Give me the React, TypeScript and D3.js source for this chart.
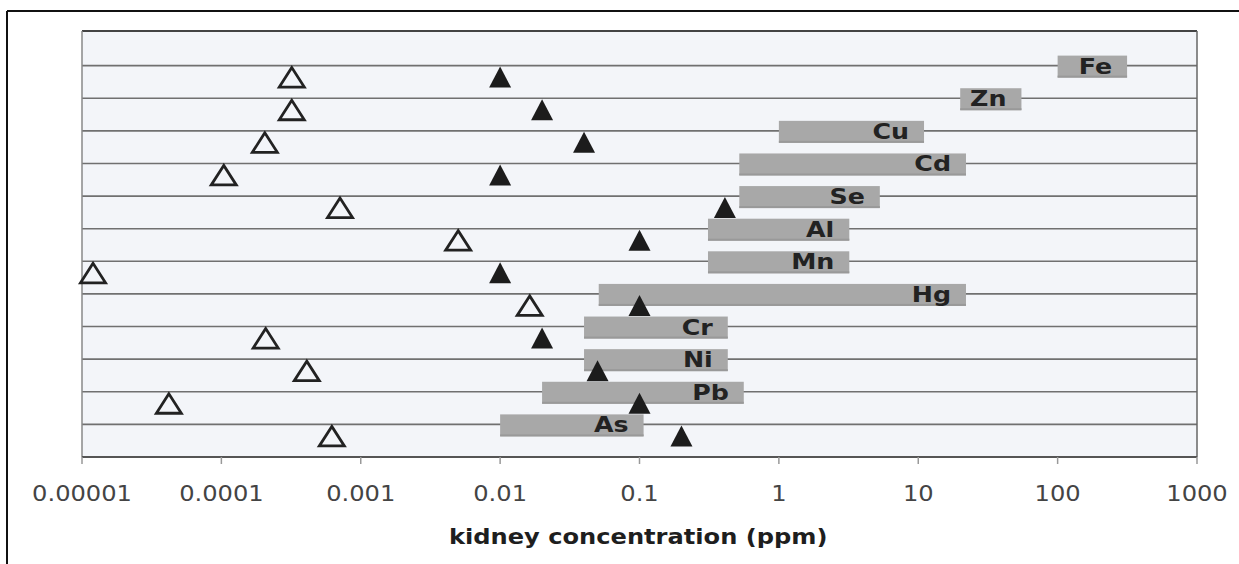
import React from "react";
import * as d3 from "d3";

const elements = ["Fe", "Zn", "Cu", "Cd", "Se", "Al", "Mn", "Hg", "Cr", "Ni", "Pb", "As"];
const rangeLow = [100, 20, 1.0, 0.52, 0.52, 0.31, 0.31, 0.051, 0.04, 0.04, 0.02, 0.01];
const rangeHigh = [315, 55, 11, 22, 5.3, 3.2, 3.2, 22, 0.43, 0.43, 0.56, 0.107];
const openValues = [3.2e-4, 3.2e-4, 2.05e-4, 1.04e-4, 7.1e-4, 5.0e-3, 1.2e-5, 0.0163, 2.08e-4, 4.1e-4, 4.2e-5, 6.2e-4];
const filledValues = [0.01, 0.02, 0.04, 0.01, 0.41, 0.1, 0.01, 0.1, 0.02, 0.05, 0.1, 0.2];
const tickValues = [0.00001, 0.0001, 0.001, 0.01, 0.1, 1, 10, 100, 1000];
const tickLabels = ["0.00001", "0.0001", "0.001", "0.01", "0.1", "1", "10", "100", "1000"];
const axisTitle = "kidney concentration (ppm)";

const W = 1239;
const H = 564;
const left = 82;
const right = 1197;
const top = 31;
const bottom = 457;
const FONT = "Verdana, 'DejaVu Sans', sans-serif";
const STRETCH = 1.15;

export default function App() {
  const x = d3.scaleLog().domain([1e-5, 1e3]).range([left, right]);
  const y = d3.scalePoint<string>().domain(elements).range([top + 2, bottom]).padding(1);

  return (
    <div style={{ position: "fixed", left: 0, top: 0 }}>
      <svg width={W} height={H} style={{ display: "block", background: "#ffffff" }}>
        {/* scan frame */}
        <line x1={7} x2={7} y1={11} y2={H} stroke="#111" strokeWidth={2} />
        <line x1={7} x2={W} y1={11} y2={11} stroke="#111" strokeWidth={2} />

        {/* plot background */}
        <rect x={left} y={top} width={right - left} height={bottom - top} fill="#f3f5f9" />

        {/* gridlines */}
        {elements.map((e) => (
          <line key={"g" + e} x1={left} x2={right} y1={y(e)!} y2={y(e)!} stroke="#707070" strokeWidth={1.6} />
        ))}

        {/* borders */}
        <line x1={left} x2={right} y1={top} y2={top} stroke="#444" strokeWidth={2} />
        <line x1={left} x2={left} y1={top} y2={bottom} stroke="#888" strokeWidth={1.5} />
        <line x1={right} x2={right} y1={top} y2={bottom} stroke="#666" strokeWidth={1.5} />
        <line x1={left} x2={right} y1={bottom} y2={bottom} stroke="#555" strokeWidth={2} />

        {/* ticks */}
        {tickValues.map((t, i) => (
          <g key={"t" + i}>
            <line x1={x(t)} x2={x(t)} y1={bottom} y2={bottom + 7} stroke="#999" strokeWidth={1.5} />
            <text
              transform={`translate(${x(t)},${bottom + 44}) scale(${STRETCH},1)`}
              textAnchor="middle"
              fontFamily={FONT}
              fontSize={21}
              fill="#444"
            >
              {tickLabels[i]}
            </text>
          </g>
        ))}

        {/* range bars */}
        {elements.map((e, i) => {
          const g = y(e)!;
          const x0 = x(rangeLow[i]);
          const x1 = x(rangeHigh[i]);
          return (
            <g key={"b" + e}>
              <rect x={x0} y={g - 10} width={x1 - x0} height={22} fill="#a8a8a8" />
              <rect x={x0} y={g + 10} width={x1 - x0} height={2} fill="#999999" />
              <text
                transform={`translate(${x1 - 15},${g + 8}) scale(${STRETCH},1)`}
                textAnchor="end"
                fontFamily={FONT}
                fontWeight="bold"
                fontSize={22}
                fill="#222"
              >
                {e}
              </text>
            </g>
          );
        })}

        {/* open triangles */}
        {elements.map((e, i) => {
          const g = y(e)!;
          const cx = x(openValues[i]);
          const p = `M${cx},${g + 2}L${cx - 12.5},${g + 21.5}L${cx + 12.5},${g + 21.5}Z`;
          return <path key={"o" + e} d={p} fill="none" stroke="#222" strokeWidth={2.8} strokeLinejoin="miter" />;
        })}

        {/* filled triangles */}
        {elements.map((e, i) => {
          const g = y(e)!;
          const cx = x(filledValues[i]);
          const p = `M${cx},${g + 1}L${cx - 11},${g + 22}L${cx + 11},${g + 22}Z`;
          return <path key={"f" + e} d={p} fill="#1c1c1c" />;
        })}

        {/* axis title */}
        <text
          transform={`translate(${(x(0.1) + x(1)) / 2 - 71},544) scale(${STRETCH},1)`}
          textAnchor="middle"
          fontFamily={FONT}
          fontWeight="bold"
          fontSize={21}
          fill="#1e1e1e"
        >
          {axisTitle}
        </text>
      </svg>
    </div>
  );
}
